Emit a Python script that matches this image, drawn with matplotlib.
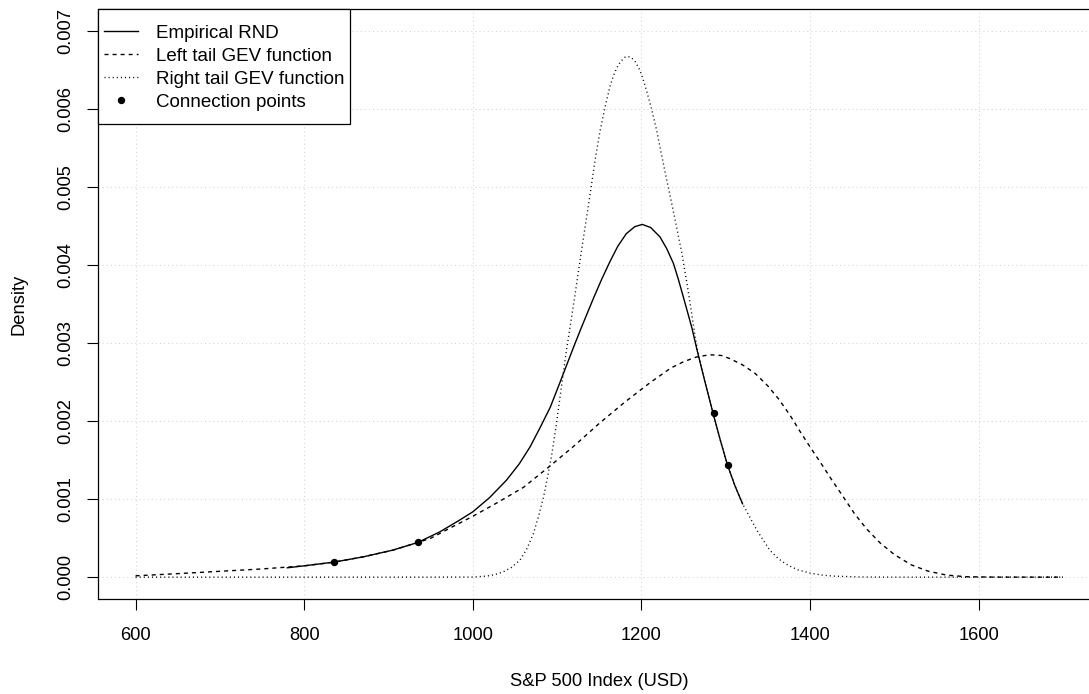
import numpy as np
import matplotlib
matplotlib.use("Agg")
import matplotlib.pyplot as plt
from matplotlib.lines import Line2D
from matplotlib.legend_handler import HandlerLine2D

# ---- data ----
rnd_x = [780, 800, 835, 870, 905, 935, 961, 983, 1000, 1020, 1040, 1055, 1068,
         1080, 1092, 1100, 1110, 1120, 1130, 1143, 1153, 1163, 1172, 1182, 1192,
         1201, 1211, 1222, 1230, 1238, 1244, 1250, 1260, 1266, 1275, 1285, 1294,
         1302, 1311, 1320]
rnd_y = [0.00012, 0.000145, 0.000192, 0.00026, 0.000346, 0.000445, 0.000581,
         0.000722, 0.000837, 0.00102, 0.001243, 0.00145, 0.00167, 0.00192,
         0.00218, 0.00240, 0.00268, 0.00296, 0.00323, 0.00357, 0.00382, 0.00405,
         0.00424, 0.00440, 0.00449, 0.00452, 0.00448, 0.00436, 0.00421, 0.00402,
         0.00381, 0.00358, 0.00319, 0.00291, 0.00252, 0.00210, 0.00174, 0.00144,
         0.00117, 0.00094]

left_x = [600, 650, 700, 750, 800, 835, 870, 905, 935, 950, 975, 1000, 1030,
          1060, 1090, 1120, 1150, 1180, 1210, 1235, 1250, 1265, 1281, 1295,
          1305, 1320, 1335, 1350, 1363, 1376, 1388, 1400, 1413, 1425, 1440,
          1453, 1467, 1483, 1500, 1520, 1540, 1562, 1586, 1620, 1660, 1700]
left_y = [0.000017, 0.000045, 0.000075, 0.000105, 0.000145, 0.000192, 0.00026,
          0.000345, 0.000445, 0.000498, 0.00064, 0.00078, 0.00096, 0.00115,
          0.00141, 0.00168, 0.00197, 0.00224, 0.00249, 0.00268, 0.00276,
          0.00282, 0.00285, 0.00284, 0.00280, 0.00272, 0.00261, 0.00245,
          0.00228, 0.00208, 0.00187, 0.00167, 0.00146, 0.00126, 0.00102,
          0.00081, 0.00062, 0.00044, 0.00029, 0.000158, 0.000077, 0.000026,
          0.000005, 0.0000005, 0.0, 0.0]

right_x = [600, 700, 800, 900, 1000, 1016, 1026, 1036, 1046, 1056, 1064, 1072,
           1078, 1084, 1089, 1094, 1099, 1103, 1111, 1121, 1129, 1135, 1140,
           1145, 1151, 1157, 1163, 1167, 1171, 1175, 1180, 1184, 1188, 1193,
           1198, 1202, 1206, 1212, 1218, 1226, 1233, 1240, 1248, 1255, 1261,
           1264, 1268, 1275, 1285, 1294, 1302, 1311, 1320, 1337, 1352, 1362,
           1372, 1385, 1400, 1414, 1428, 1460, 1500, 1600, 1700]
right_y = [0.0, 0.0, 0.0, 0.0, 0.000001, 0.000013, 0.000032, 0.000068,
           0.000125, 0.000218, 0.00036, 0.00056, 0.00078, 0.00103, 0.00130,
           0.00159, 0.00195, 0.00227, 0.00290, 0.00360, 0.00419, 0.00461,
           0.00497, 0.00534, 0.00572, 0.00603, 0.00630, 0.00643, 0.00653,
           0.00660, 0.00666, 0.00667, 0.00666, 0.00660, 0.00650, 0.00638,
           0.00624, 0.00600, 0.00573, 0.00530, 0.00494, 0.00458, 0.00415,
           0.00370, 0.00328, 0.00306, 0.00283, 0.00252, 0.00210, 0.00174,
           0.00144, 0.00117, 0.00094, 0.00060, 0.00035, 0.00024, 0.000165,
           0.000095, 0.000052, 0.000027, 0.000013, 0.000002, 0.0, 0.0, 0.0]

conn_x = [835, 935, 1286, 1303]
conn_y = [0.000192, 0.000445, 0.00210, 0.00144]

x_ticks = [600, 800, 1000, 1200, 1400, 1600]
y_ticks = [0.000, 0.001, 0.002, 0.003, 0.004, 0.005, 0.006, 0.007]
y_tick_labels = ["0.000", "0.001", "0.002", "0.003", "0.004", "0.005", "0.006", "0.007"]

series_labels = ["Empirical RND", "Left tail GEV function",
                 "Right tail GEV function", "Connection points"]

# ---- styling ----
plt.rcParams['font.family'] = ['Liberation Sans', 'DejaVu Sans']
plt.rcParams['font.size'] = 13.2
plt.rcParams['lines.scale_dashes'] = False

W, H = 1089, 694
fig = plt.figure(figsize=(W / 100, H / 100), dpi=100)
ax = fig.add_axes([98.5 / W, (H - 599) / H, (1100 - 98.5) / W, 590 / H])

ax.set_xlim(556, 1744)
ax.set_ylim(-0.00028, 0.00728)
ax.set_xticks(x_ticks)
ax.set_yticks(y_ticks)
ax.set_yticklabels(y_tick_labels)

ax.grid(True, color='#d3d3d3', linestyle=(0, (0.75, 2.2)), linewidth=0.75)
ax.set_axisbelow(True)

for s in ax.spines.values():
    s.set_linewidth(0.9)
    s.set_color('black')

ax.tick_params(axis='both', direction='out', length=7.9, width=0.8, colors='black')
ax.tick_params(axis='x', pad=12)
ax.tick_params(axis='y', pad=9.5, labelrotation=90)
for lbl in ax.get_yticklabels():
    lbl.set_verticalalignment('center')

ax.plot(rnd_x, rnd_y, color='black', lw=1.0, linestyle='-', label=series_labels[0])
ax.plot(left_x, left_y, color='black', lw=1.0, linestyle=(0, (2.9, 2.9)),
        label=series_labels[1])
ax.plot(right_x, right_y, color='black', lw=1.0, linestyle=(0, (0.75, 2.2)),
        label=series_labels[2])
ax.plot(conn_x, conn_y, color='black', marker='o', ms=4.3, linestyle='none',
        label=series_labels[3])


class CenteredLineHandler(HandlerLine2D):
    """Keep legend samples level with the middle of the label capitals."""
    def create_artists(self, legend, orig_handle, xdescent, ydescent, width,
                       height, fontsize, trans):
        arts = super().create_artists(legend, orig_handle, xdescent, ydescent,
                                      width, height, fontsize, trans)
        for a in arts:
            yd = np.asarray(a.get_ydata(), dtype=float)
            a.set_ydata(np.full_like(yd, 0.355 * fontsize))
        return arts


leg = ax.legend(loc='upper left', bbox_to_anchor=(0, 1), borderaxespad=0,
                fancybox=False, framealpha=1, edgecolor='black',
                handlelength=1.85, handletextpad=0.94, handleheight=2.5,
                labelspacing=-0.643, borderpad=0.28, fontsize=13.5,
                handler_map={Line2D: CenteredLineHandler()})
leg.get_frame().set_linewidth(0.9)

fig.text(599 / W, 1 - 686 / H, "S&P 500 Index (USD)", ha='center',
         va='baseline', fontsize=13.2)
fig.text(19 / W, 1 - 304 / H, "Density", ha='center', va='center',
         rotation=90, fontsize=13.2)

fig.savefig("out.png", dpi=100)
